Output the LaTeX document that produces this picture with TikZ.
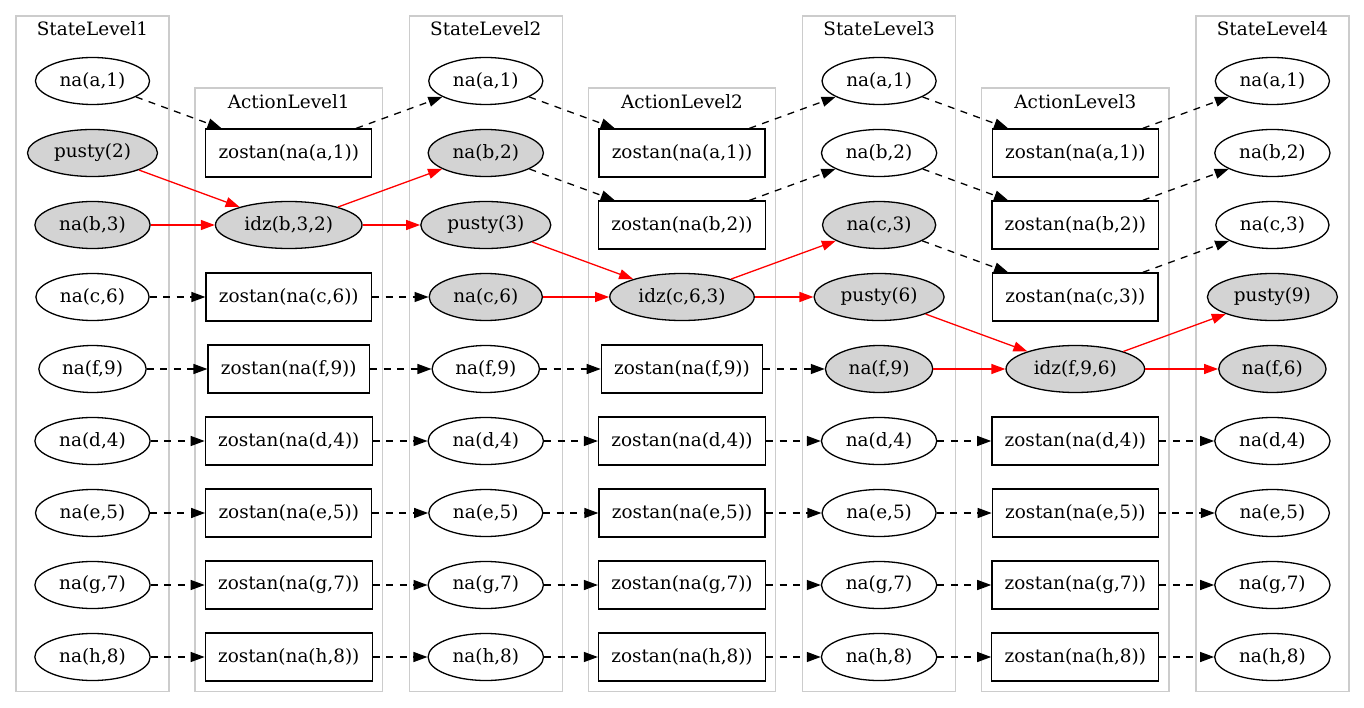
\documentclass[tikz,border=0pt]{standalone}
\usepackage{fontspec}
\setmainfont{DejaVu Serif}
\usetikzlibrary{arrows.meta,shapes.geometric}
\definecolor{gvgray}{HTML}{D3D3D3}
\definecolor{clgray}{HTML}{CCCCCC}
\begin{document}
\begin{tikzpicture}[x=1pt,y=-1pt,
  every node/.style={font=\fontsize{18.4}{22}\selectfont},
  st/.style={ellipse,draw,line width=1.3pt,inner xsep=7.5pt,inner ysep=2pt,minimum height=47pt},
  act/.style={rectangle,draw,line width=1.3pt,inner xsep=12.8pt,inner ysep=2pt,minimum height=48pt},
  gv/.style={fill=gvgray},
  cl/.style={draw=clgray,line width=1.3pt},
  lbl/.style={inner sep=0pt},
  dsh/.style={draw=black,line width=1.3pt,dash pattern=on 7pt off 6.5pt,-{Triangle[length=14pt,width=10pt]}},
  rdar/.style={draw=red,line width=1.3pt,-{Triangle[length=14pt,width=10pt]}}]
\useasboundingbox (0,0) rectangle (1364,708);
% clusters
\draw[cl] (16,16) rectangle (169,691.5);
\draw[cl] (409.3,16) rectangle (562.3,691.5);
\draw[cl] (802.6,16) rectangle (955.6,691.5);
\draw[cl] (1195.9,16) rectangle (1348.9,691.5);
\draw[cl] (195,88) rectangle (382.5,691.5);
\draw[cl] (588.3,88) rectangle (775.8,691.5);
\draw[cl] (981.6,88) rectangle (1169.1,691.5);
\node[lbl] (ls1) at (92.5,29) {StateLevel1};
\node[lbl] (ls2) at (485.8,29) {StateLevel2};
\node[lbl] (ls3) at (879.1,29) {StateLevel3};
\node[lbl] (ls4) at (1272.4,29) {StateLevel4};
\node[lbl] (la1) at (288.75,102) {ActionLevel1};
\node[lbl] (la2) at (682,102) {ActionLevel2};
\node[lbl] (la3) at (1075.3,102) {ActionLevel3};
% row 1
\node[st] (s1-1) at (92.5,81) {na(a,1)};
\node[st] (s2-1) at (485.8,81) {na(a,1)};
\node[st] (s3-1) at (879.1,81) {na(a,1)};
\node[st] (s4-1) at (1272.4,81) {na(a,1)};
% row 2
\node[st,gv] (s1-2) at (92.5,153) {pusty(2)};
\node[act] (a1-2) at (288.75,153) {zostan(na(a,1))};
\node[st,gv] (s2-2) at (485.8,153) {na(b,2)};
\node[act] (a2-2) at (682,153) {zostan(na(a,1))};
\node[st] (s3-2) at (879.1,153) {na(b,2)};
\node[act] (a3-2) at (1075.3,153) {zostan(na(a,1))};
\node[st] (s4-2) at (1272.4,153) {na(b,2)};
% row 3
\node[st,gv] (s1-3) at (92.5,225) {na(b,3)};
\node[st,gv] (a1-3) at (288.75,225) {idz(b,3,2)};
\node[st,gv] (s2-3) at (485.8,225) {pusty(3)};
\node[act] (a2-3) at (682,225) {zostan(na(b,2))};
\node[st,gv] (s3-3) at (879.1,225) {na(c,3)};
\node[act] (a3-3) at (1075.3,225) {zostan(na(b,2))};
\node[st] (s4-3) at (1272.4,225) {na(c,3)};
% row 4
\node[st] (s1-4) at (92.5,297) {na(c,6)};
\node[act] (a1-4) at (288.75,297) {zostan(na(c,6))};
\node[st,gv] (s2-4) at (485.8,297) {na(c,6)};
\node[st,gv] (a2-4) at (682,297) {idz(c,6,3)};
\node[st,gv] (s3-4) at (879.1,297) {pusty(6)};
\node[act] (a3-4) at (1075.3,297) {zostan(na(c,3))};
\node[st,gv] (s4-4) at (1272.4,297) {pusty(9)};
% row 5
\node[st] (s1-5) at (92.5,369) {na(f,9)};
\node[act] (a1-5) at (288.75,369) {zostan(na(f,9))};
\node[st] (s2-5) at (485.8,369) {na(f,9)};
\node[act] (a2-5) at (682,369) {zostan(na(f,9))};
\node[st,gv] (s3-5) at (879.1,369) {na(f,9)};
\node[st,gv] (a3-5) at (1075.3,369) {idz(f,9,6)};
\node[st,gv] (s4-5) at (1272.4,369) {na(f,6)};
% rows 6-9
\foreach \r/\t in {6/{d,4},7/{e,5},8/{g,7},9/{h,8}}{
  \pgfmathsetmacro\yy{81+72*(\r-1)}
  \foreach \k/\xs in {1/92.5,2/485.8,3/879.1,4/1272.4}{
    \node[st] (s\k-\r) at (\xs,\yy) {na(\t)};
  }
  \foreach \k/\xa in {1/288.75,2/682,3/1075.3}{
    \node[act] (a\k-\r) at (\xa,\yy) {zostan(na(\t))};
  }
}
% dashed edges
\foreach \r in {6,7,8,9}{
  \foreach \k/\kk in {1/2,2/3,3/4}{
    \draw[dsh] (s\k-\r) -- (a\k-\r);
    \draw[dsh] (a\k-\r) -- (s\kk-\r);
  }
}
\draw[dsh] (s1-1) -- (a1-2);
\draw[dsh] (a1-2) -- (s2-1);
\draw[dsh] (s1-4) -- (a1-4);
\draw[dsh] (a1-4) -- (s2-4);
\draw[dsh] (s1-5) -- (a1-5);
\draw[dsh] (a1-5) -- (s2-5);
\draw[dsh] (s2-1) -- (a2-2);
\draw[dsh] (a2-2) -- (s3-1);
\draw[dsh] (s2-2) -- (a2-3);
\draw[dsh] (a2-3) -- (s3-2);
\draw[dsh] (s2-5) -- (a2-5);
\draw[dsh] (a2-5) -- (s3-5);
\draw[dsh] (s3-1) -- (a3-2);
\draw[dsh] (a3-2) -- (s4-1);
\draw[dsh] (s3-2) -- (a3-3);
\draw[dsh] (a3-3) -- (s4-2);
\draw[dsh] (s3-3) -- (a3-4);
\draw[dsh] (a3-4) -- (s4-3);
% red edges
\draw[rdar] (s1-2) -- (a1-3);
\draw[rdar] (s1-3) -- (a1-3);
\draw[rdar] (a1-3) -- (s2-2);
\draw[rdar] (a1-3) -- (s2-3);
\draw[rdar] (s2-3) -- (a2-4);
\draw[rdar] (s2-4) -- (a2-4);
\draw[rdar] (a2-4) -- (s3-3);
\draw[rdar] (a2-4) -- (s3-4);
\draw[rdar] (s3-4) -- (a3-5);
\draw[rdar] (s3-5) -- (a3-5);
\draw[rdar] (a3-5) -- (s4-4);
\draw[rdar] (a3-5) -- (s4-5);
\end{tikzpicture}
\end{document}
